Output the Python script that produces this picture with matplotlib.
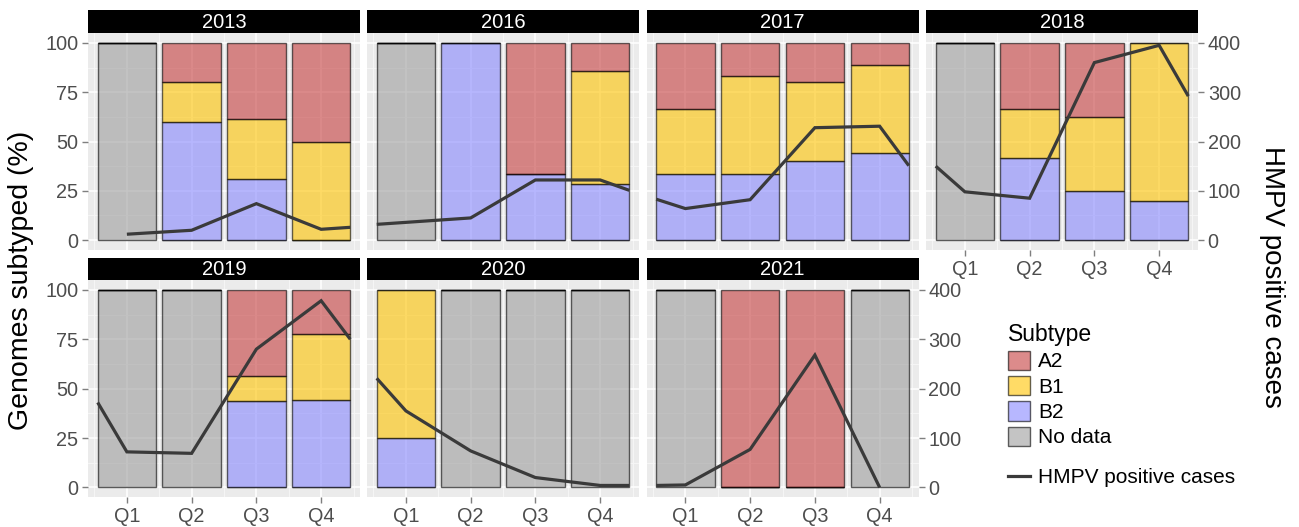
import matplotlib.pyplot as plt
from matplotlib.patches import Patch
from matplotlib.lines import Line2D
from matplotlib.ticker import FixedLocator

plt.rcParams['font.family'] = ['Liberation Sans', 'DejaVu Sans']

years = ['2013', '2016', '2017', '2018', '2019', '2020', '2021']
quarters = ['Q1', 'Q2', 'Q3', 'Q4']

# share of genomes per subtype (%), one row per year, Q1..Q4
no_data = [[100, 0, 0, 0], [100, 0, 0, 0], [0, 0, 0, 0], [100, 0, 0, 0],
           [100, 100, 0, 0], [0, 100, 100, 100], [100, 0, 0, 100]]
b2 = [[0, 60, 30.8, 0], [0, 100, 33.3, 28.6], [33.3, 33.3, 40, 44.4],
      [0, 41.7, 25, 20], [0, 0, 43.75, 44.4], [25, 0, 0, 0], [0, 0, 0, 0]]
b1 = [[0, 20, 30.8, 50], [0, 0, 0, 57.1], [33.3, 50, 40, 44.5],
      [0, 25, 37.5, 80], [0, 0, 12.5, 33.4], [75, 0, 0, 0], [0, 0, 0, 0]]
a2 = [[0, 20, 38.4, 50], [0, 0, 66.7, 14.3], [33.4, 16.7, 20, 11.1],
      [0, 33.3, 37.5, 0], [0, 0, 43.75, 22.2], [0, 0, 0, 0], [0, 100, 100, 0]]

# HMPV positive cases (x in quarter units)
cases_x = [[1, 2, 3, 4, 4.45],
           [0.55, 2, 3, 4, 4.45],
           [0.55, 1, 2, 3, 4, 4.45],
           [0.55, 1, 2, 3, 4, 4.45],
           [0.55, 1, 2, 3, 4, 4.45],
           [0.55, 1, 2, 3, 4, 4.45],
           [0.55, 1, 2, 3, 4]]
cases_y = [[12, 20, 74, 22, 26],
           [32, 45, 122, 122, 101],
           [83, 64, 82, 228, 231, 151],
           [150, 98, 85, 360, 395, 292],
           [172, 72, 69, 280, 378, 300],
           [221, 155, 74, 20, 4, 4],
           [4, 5, 77, 268, 0]]

pct_ticks = [0, 25, 50, 75, 100]
case_ticks = [0, 100, 200, 300, 400]

colors = {'A2': '#C53E3E', 'B1': '#FFC400', 'B2': '#8787FF', 'No data': '#9E9E9E'}
alpha = 0.6
tick_col = '#4D4D4D'

W, H = 1299, 527
fig = plt.figure(figsize=(W / 100, H / 100), dpi=100)

def box(x0, y0, x1, y1):
    return [x0 / W, 1 - y1 / H, (x1 - x0) / W, (y1 - y0) / H]

col_x = [88, 367, 646.5, 926]
pw = 272
rows = [(10, 33, 250), (257.5, 280, 497.3)]
pos = [(0, 0), (0, 1), (0, 2), (0, 3), (1, 0), (1, 1), (1, 2)]

x = [1, 2, 3, 4]
for i, yr in enumerate(years):
    r, c = pos[i]
    st, pt, pb = rows[r]
    x0 = col_x[c]

    # strip
    sax = fig.add_axes(box(x0, st, x0 + pw, pt))
    sax.set_facecolor('black')
    sax.set_xticks([])
    sax.set_yticks([])
    for s in sax.spines.values():
        s.set_visible(False)
    sax.text(0.5, 0.45, yr, color='white', fontsize=14.5, ha='center', va='center',
             transform=sax.transAxes)

    ax = fig.add_axes(box(x0, pt, x0 + pw, pb))
    ax.set_facecolor('#EBEBEB')
    for s in ax.spines.values():
        s.set_visible(False)
    ax.set_xlim(0.4, 4.6)
    ax.set_ylim(-5, 105)
    ax.xaxis.set_major_locator(FixedLocator(x))
    ax.xaxis.set_minor_locator(FixedLocator([0.5, 1.5, 2.5, 3.5, 4.5]))
    ax.yaxis.set_major_locator(FixedLocator(pct_ticks))
    ax.yaxis.set_minor_locator(FixedLocator([12.5, 37.5, 62.5, 87.5]))
    ax.set_axisbelow(True)
    ax.grid(which='major', color='white', lw=1.1)
    ax.grid(which='minor', color='#F7F7F7', lw=0.6)
    ax.tick_params(which='minor', length=0)
    ax.tick_params(which='major', color='#7F7F7F', length=4, width=1,
                   labelsize=14.3, labelcolor=tick_col, pad=3)

    bottom = [0, 0, 0, 0]
    for name, vals in [('No data', no_data[i]), ('B2', b2[i]), ('B1', b1[i]), ('A2', a2[i])]:
        ax.bar(x, vals, width=0.9, bottom=bottom, color=colors[name],
               edgecolor='black', linewidth=1, alpha=alpha)
        bottom = [b + v for b, v in zip(bottom, vals)]

    if c == 0:
        ax.set_yticklabels([str(t) for t in pct_ticks])
    else:
        ax.tick_params(axis='y', length=0, labelleft=False)
    if r == 1 or c == 3:
        ax.set_xticklabels(quarters)
    else:
        ax.tick_params(axis='x', length=0, labelbottom=False)

    ax2 = ax.twinx()
    for s in ax2.spines.values():
        s.set_visible(False)
    ax2.set_ylim(-20, 420)
    ax2.yaxis.set_major_locator(FixedLocator(case_ticks))
    ax2.plot(cases_x[i], cases_y[i], color='#3A3A3A', lw=2.3,
             solid_joinstyle='miter', solid_capstyle='butt')
    if (r == 0 and c == 3) or (r == 1 and c == 2):
        ax2.tick_params(axis='y', color='#7F7F7F', length=4, width=1,
                        labelsize=14.3, labelcolor=tick_col, pad=3)
    else:
        ax2.tick_params(axis='y', length=0, labelright=False)

fig.text(21 / W, 1 - 280 / H, 'Genomes subtyped (%)', rotation=90,
         ha='center', va='center', fontsize=20.5)
fig.text(1272 / W, 1 - 277 / H, 'HMPV positive cases', rotation=-90,
         ha='center', va='center', fontsize=20)

# legends
names = ['A2', 'B1', 'B2', 'No data']
handles = [Patch(facecolor=colors[n], edgecolor='black', alpha=alpha, lw=1) for n in names]
fig.legend(handles, names, title='Subtype', loc='upper left',
           bbox_to_anchor=(1008 / W, 1 - 323 / H), frameon=False, fontsize=15,
           title_fontsize=16.5, handlelength=1.05, handleheight=1.05,
           handletextpad=0.4, labelspacing=0.22, borderpad=0,
           borderaxespad=0, alignment='left')
fig.legend([Line2D([], [], color='#3A3A3A', lw=2.3)], ['HMPV positive cases'],
           loc='upper left', bbox_to_anchor=(1008 / W, 1 - 468 / H), frameon=False,
           fontsize=15, handlelength=1.05, handletextpad=0.4, borderpad=0,
           borderaxespad=0)

fig.savefig('out.png', dpi=100)
